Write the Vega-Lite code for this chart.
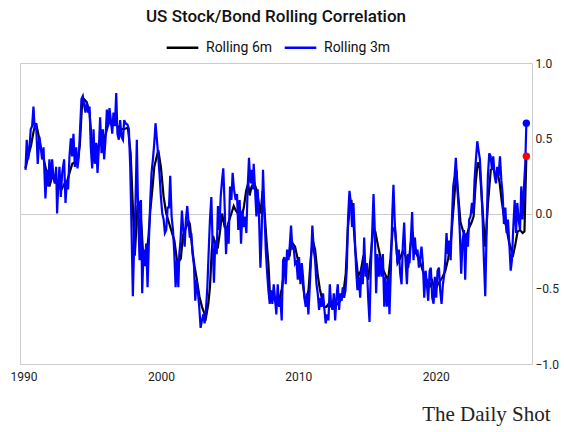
{
  "$schema": "https://vega.github.io/schema/vega-lite/v6.json",
  "width": 512,
  "height": 301,
  "autosize": {"type": "none"},
  "padding": {"left": 20, "top": 63, "right": 32, "bottom": 68},
  "background": "white",
  "title": {
    "text": "US Stock/Bond Rolling Correlation",
    "font": "Roboto",
    "fontSize": 17,
    "fontWeight": 500,
    "color": "#111111",
    "anchor": "middle",
    "offset": 4
  },
  "datasets": {
    "m6": [
      {"t":1990.15,"v":0.30},{"t":1990.35,"v":0.38},{"t":1990.55,"v":0.45},{"t":1990.75,"v":0.55},{"t":1990.92,"v":0.60},
      {"t":1991.1,"v":0.52},{"t":1991.3,"v":0.42},{"t":1991.5,"v":0.35},{"t":1991.65,"v":0.29},{"t":1991.89,"v":0.18},
      {"t":1992.1,"v":0.25},{"t":1992.35,"v":0.22},{"t":1992.55,"v":0.18},{"t":1992.77,"v":0.16},{"t":1993.0,"v":0.20},
      {"t":1993.2,"v":0.22},{"t":1993.35,"v":0.27},{"t":1993.55,"v":0.33},{"t":1993.75,"v":0.34},{"t":1993.95,"v":0.36},
      {"t":1994.1,"v":0.45},{"t":1994.25,"v":0.70},{"t":1994.4,"v":0.76},{"t":1994.6,"v":0.74},{"t":1994.81,"v":0.67},
      {"t":1994.95,"v":0.50},{"t":1995.1,"v":0.42},{"t":1995.3,"v":0.40},{"t":1995.5,"v":0.47},{"t":1995.7,"v":0.45},
      {"t":1995.9,"v":0.50},{"t":1996.05,"v":0.55},{"t":1996.25,"v":0.62},{"t":1996.45,"v":0.58},{"t":1996.65,"v":0.62},
      {"t":1996.85,"v":0.58},{"t":1997.05,"v":0.56},{"t":1997.3,"v":0.56},{"t":1997.6,"v":0.57},{"t":1997.8,"v":0.40},
      {"t":1997.9,"v":0.18},{"t":1998.1,"v":-0.28},{"t":1998.3,"v":0.05},{"t":1998.45,"v":0.07},{"t":1998.6,"v":-0.10},
      {"t":1998.74,"v":-0.33},{"t":1998.93,"v":-0.30},{"t":1999.1,"v":-0.15},{"t":1999.23,"v":0.02},{"t":1999.4,"v":0.18},
      {"t":1999.52,"v":0.31},{"t":1999.81,"v":0.42},{"t":2000.0,"v":0.31},{"t":2000.2,"v":0.11},{"t":2000.39,"v":0.0},
      {"t":2000.68,"v":-0.09},{"t":2000.98,"v":-0.18},{"t":2001.17,"v":-0.31},{"t":2001.3,"v":-0.32},{"t":2001.45,"v":-0.30},
      {"t":2001.6,"v":-0.15},{"t":2001.8,"v":-0.10},{"t":2002.0,"v":-0.05},{"t":2002.11,"v":-0.07},{"t":2002.3,"v":-0.25},
      {"t":2002.45,"v":-0.35},{"t":2002.6,"v":-0.43},{"t":2002.8,"v":-0.55},{"t":2002.99,"v":-0.62},{"t":2003.15,"v":-0.66},
      {"t":2003.28,"v":-0.69},{"t":2003.45,"v":-0.60},{"t":2003.57,"v":-0.49},{"t":2003.7,"v":-0.25},{"t":2003.8,"v":-0.15},
      {"t":2003.95,"v":-0.20},{"t":2004.15,"v":-0.22},{"t":2004.3,"v":-0.12},{"t":2004.45,"v":0.0},{"t":2004.64,"v":-0.09},
      {"t":2004.8,"v":-0.10},{"t":2004.95,"v":-0.05},{"t":2005.13,"v":0.00},{"t":2005.3,"v":0.05},{"t":2005.45,"v":0.02},
      {"t":2005.6,"v":0.00},{"t":2005.75,"v":-0.05},{"t":2005.9,"v":-0.02},{"t":2006.05,"v":0.05},{"t":2006.2,"v":0.15},
      {"t":2006.35,"v":0.20},{"t":2006.46,"v":0.12},{"t":2006.6,"v":0.18},{"t":2006.8,"v":0.20},{"t":2006.95,"v":0.16},
      {"t":2007.1,"v":0.08},{"t":2007.25,"v":0.0},{"t":2007.4,"v":0.15},{"t":2007.55,"v":0.0},{"t":2007.7,"v":-0.20},
      {"t":2007.82,"v":-0.33},{"t":2007.92,"v":-0.51},{"t":2008.1,"v":-0.55},{"t":2008.3,"v":-0.58},{"t":2008.5,"v":-0.56},
      {"t":2008.65,"v":-0.56},{"t":2008.8,"v":-0.50},{"t":2008.95,"v":-0.40},{"t":2009.15,"v":-0.30},{"t":2009.37,"v":-0.28},
      {"t":2009.5,"v":-0.18},{"t":2009.6,"v":-0.20},{"t":2009.76,"v":-0.22},{"t":2009.95,"v":-0.30},{"t":2010.1,"v":-0.38},
      {"t":2010.3,"v":-0.45},{"t":2010.45,"v":-0.55},{"t":2010.59,"v":-0.60},{"t":2010.75,"v":-0.50},{"t":2010.9,"v":-0.30},
      {"t":2011.05,"v":-0.18},{"t":2011.22,"v":-0.24},{"t":2011.4,"v":-0.40},{"t":2011.56,"v":-0.50},{"t":2011.75,"v":-0.58},
      {"t":2011.9,"v":-0.62},{"t":2012.04,"v":-0.62},{"t":2012.2,"v":-0.60},{"t":2012.4,"v":-0.62},{"t":2012.55,"v":-0.60},
      {"t":2012.65,"v":-0.62},{"t":2012.85,"v":-0.60},{"t":2013.05,"v":-0.58},{"t":2013.25,"v":-0.55},{"t":2013.45,"v":-0.40},
      {"t":2013.6,"v":-0.10},{"t":2013.75,"v":0.05},{"t":2013.86,"v":0.09},{"t":2014.0,"v":-0.05},{"t":2014.15,"v":-0.25},
      {"t":2014.35,"v":-0.42},{"t":2014.55,"v":-0.38},{"t":2014.7,"v":-0.30},{"t":2014.84,"v":-0.33},{"t":2015.08,"v":-0.44},
      {"t":2015.25,"v":-0.30},{"t":2015.45,"v":-0.10},{"t":2015.6,"v":-0.12},{"t":2015.81,"v":-0.22},{"t":2016.0,"v":-0.30},
      {"t":2016.2,"v":-0.38},{"t":2016.4,"v":-0.42},{"t":2016.54,"v":-0.44},{"t":2016.7,"v":-0.30},{"t":2016.85,"v":-0.12},
      {"t":2017.02,"v":-0.09},{"t":2017.22,"v":-0.33},{"t":2017.4,"v":-0.30},{"t":2017.6,"v":-0.25},{"t":2017.8,"v":-0.28},
      {"t":2017.99,"v":-0.36},{"t":2018.15,"v":-0.22},{"t":2018.3,"v":-0.12},{"t":2018.48,"v":-0.24},{"t":2018.65,"v":-0.28},
      {"t":2018.85,"v":-0.32},{"t":2019.05,"v":-0.38},{"t":2019.21,"v":-0.42},{"t":2019.4,"v":-0.45},{"t":2019.6,"v":-0.48},
      {"t":2019.75,"v":-0.45},{"t":2019.93,"v":-0.51},{"t":2020.1,"v":-0.48},{"t":2020.3,"v":-0.45},{"t":2020.5,"v":-0.42},
      {"t":2020.7,"v":-0.38},{"t":2020.9,"v":-0.30},{"t":2021.1,"v":-0.18},{"t":2021.3,"v":0.05},{"t":2021.5,"v":0.29},
      {"t":2021.65,"v":0.10},{"t":2021.8,"v":-0.06},{"t":2022.0,"v":-0.12},{"t":2022.2,"v":-0.16},{"t":2022.4,"v":-0.10},
      {"t":2022.6,"v":-0.06},{"t":2022.75,"v":-0.02},{"t":2022.9,"v":0.20},{"t":2023.05,"v":0.34},{"t":2023.2,"v":0.30},
      {"t":2023.35,"v":0.10},{"t":2023.5,"v":-0.10},{"t":2023.6,"v":-0.22},{"t":2023.8,"v":0.07},{"t":2024.0,"v":0.29},
      {"t":2024.2,"v":0.30},{"t":2024.35,"v":0.25},{"t":2024.5,"v":0.27},{"t":2024.65,"v":0.20},{"t":2024.8,"v":0.08},
      {"t":2024.96,"v":-0.02},{"t":2025.15,"v":-0.10},{"t":2025.35,"v":-0.20},{"t":2025.5,"v":-0.24},{"t":2025.64,"v":-0.27},
      {"t":2025.8,"v":-0.20},{"t":2025.95,"v":-0.12},{"t":2026.13,"v":-0.11},{"t":2026.32,"v":-0.13},{"t":2026.45,"v":-0.12},
      {"t":2026.59,"v":0.38}
    ],
    "m3": [
      {"t":1990.15,"v":0.29},{"t":1990.24,"v":0.49},{"t":1990.34,"v":0.36},{"t":1990.44,"v":0.44},{"t":1990.53,"v":0.56},
      {"t":1990.63,"v":0.58},{"t":1990.73,"v":0.71},{"t":1990.82,"v":0.56},{"t":1990.92,"v":0.60},{"t":1991.04,"v":0.33},
      {"t":1991.16,"v":0.51},{"t":1991.26,"v":0.44},{"t":1991.36,"v":0.36},{"t":1991.46,"v":0.44},{"t":1991.55,"v":0.22},
      {"t":1991.60,"v":0.10},{"t":1991.70,"v":0.29},{"t":1991.80,"v":0.18},{"t":1991.89,"v":0.36},{"t":1991.99,"v":0.22},
      {"t":1992.09,"v":0.36},{"t":1992.18,"v":0.24},{"t":1992.28,"v":0.20},{"t":1992.38,"v":0.31},{"t":1992.45,"v":0.0},
      {"t":1992.52,"v":0.16},{"t":1992.62,"v":0.31},{"t":1992.72,"v":0.11},{"t":1992.82,"v":0.27},{"t":1992.96,"v":0.36},
      {"t":1993.06,"v":0.07},{"t":1993.16,"v":0.22},{"t":1993.25,"v":0.16},{"t":1993.35,"v":0.38},{"t":1993.45,"v":0.50},
      {"t":1993.54,"v":0.38},{"t":1993.64,"v":0.53},{"t":1993.74,"v":0.31},{"t":1993.84,"v":0.44},{"t":1993.93,"v":0.30},
      {"t":1994.03,"v":0.38},{"t":1994.13,"v":0.58},{"t":1994.22,"v":0.76},{"t":1994.32,"v":0.78},{"t":1994.42,"v":0.72},
      {"t":1994.51,"v":0.67},{"t":1994.61,"v":0.74},{"t":1994.71,"v":0.67},{"t":1994.81,"v":0.71},{"t":1994.90,"v":0.44},
      {"t":1995.00,"v":0.30},{"t":1995.10,"v":0.56},{"t":1995.19,"v":0.33},{"t":1995.29,"v":0.47},{"t":1995.39,"v":0.27},
      {"t":1995.49,"v":0.44},{"t":1995.58,"v":0.64},{"t":1995.68,"v":0.40},{"t":1995.78,"v":0.56},{"t":1995.87,"v":0.36},
      {"t":1995.97,"v":0.49},{"t":1996.07,"v":0.69},{"t":1996.16,"v":0.58},{"t":1996.26,"v":0.70},{"t":1996.36,"v":0.62},
      {"t":1996.46,"v":0.53},{"t":1996.55,"v":0.67},{"t":1996.65,"v":0.58},{"t":1996.75,"v":0.80},{"t":1996.84,"v":0.53},
      {"t":1996.94,"v":0.49},{"t":1997.04,"v":0.62},{"t":1997.13,"v":0.51},{"t":1997.24,"v":0.49},{"t":1997.33,"v":0.62},
      {"t":1997.43,"v":0.60},{"t":1997.57,"v":0.59},{"t":1997.67,"v":0.56},{"t":1997.77,"v":0.31},{"t":1997.87,"v":-0.13},
      {"t":1997.96,"v":-0.55},{"t":1998.06,"v":-0.18},{"t":1998.16,"v":0.09},{"t":1998.25,"v":0.49},{"t":1998.35,"v":-0.02},
      {"t":1998.45,"v":-0.31},{"t":1998.55,"v":0.09},{"t":1998.64,"v":-0.53},{"t":1998.74,"v":-0.24},{"t":1998.84,"v":-0.35},
      {"t":1998.93,"v":-0.20},{"t":1999.03,"v":-0.49},{"t":1999.13,"v":-0.18},{"t":1999.23,"v":0.09},{"t":1999.32,"v":0.27},
      {"t":1999.42,"v":0.36},{"t":1999.52,"v":0.47},{"t":1999.61,"v":0.60},{"t":1999.71,"v":0.49},{"t":1999.81,"v":0.38},
      {"t":1999.91,"v":0.25},{"t":2000.00,"v":0.11},{"t":2000.10,"v":0.0},{"t":2000.20,"v":-0.04},{"t":2000.29,"v":-0.13},
      {"t":2000.39,"v":-0.11},{"t":2000.49,"v":0.04},{"t":2000.59,"v":0.04},{"t":2000.68,"v":0.25},{"t":2000.78,"v":-0.02},
      {"t":2000.88,"v":-0.11},{"t":2000.98,"v":-0.27},{"t":2001.07,"v":-0.49},{"t":2001.17,"v":-0.31},{"t":2001.27,"v":-0.49},
      {"t":2001.34,"v":-0.27},{"t":2001.43,"v":-0.18},{"t":2001.53,"v":0.02},{"t":2001.63,"v":-0.11},{"t":2001.73,"v":-0.22},
      {"t":2001.82,"v":-0.04},{"t":2001.92,"v":0.05},{"t":2002.02,"v":-0.07},{"t":2002.11,"v":-0.16},{"t":2002.21,"v":-0.13},
      {"t":2002.31,"v":-0.27},{"t":2002.41,"v":-0.35},{"t":2002.50,"v":-0.58},{"t":2002.60,"v":-0.44},{"t":2002.70,"v":-0.53},
      {"t":2002.79,"v":-0.62},{"t":2002.89,"v":-0.76},{"t":2002.99,"v":-0.71},{"t":2003.09,"v":-0.67},{"t":2003.18,"v":-0.73},
      {"t":2003.28,"v":-0.64},{"t":2003.38,"v":-0.49},{"t":2003.47,"v":-0.27},{"t":2003.57,"v":-0.04},{"t":2003.67,"v":0.11},
      {"t":2003.77,"v":-0.22},{"t":2003.86,"v":-0.46},{"t":2003.96,"v":-0.18},{"t":2004.06,"v":-0.27},{"t":2004.15,"v":0.05},
      {"t":2004.25,"v":-0.11},{"t":2004.35,"v":0.11},{"t":2004.45,"v":0.22},{"t":2004.54,"v":0.30},{"t":2004.64,"v":0.05},
      {"t":2004.74,"v":-0.27},{"t":2004.83,"v":-0.09},{"t":2004.93,"v":-0.20},{"t":2005.03,"v":0.18},{"t":2005.13,"v":0.09},
      {"t":2005.22,"v":0.27},{"t":2005.32,"v":0.16},{"t":2005.44,"v":0.09},{"t":2005.54,"v":0.13},{"t":2005.63,"v":-0.11},
      {"t":2005.73,"v":0.09},{"t":2005.83,"v":-0.20},{"t":2005.93,"v":0.02},{"t":2006.02,"v":-0.09},{"t":2006.12,"v":-0.02},
      {"t":2006.22,"v":-0.13},{"t":2006.31,"v":0.16},{"t":2006.41,"v":0.37},{"t":2006.51,"v":0.20},{"t":2006.61,"v":0.29},
      {"t":2006.70,"v":0.16},{"t":2006.75,"v":0.33},{"t":2006.85,"v":0.16},{"t":2006.95,"v":-0.02},{"t":2007.04,"v":0.16},
      {"t":2007.14,"v":-0.02},{"t":2007.24,"v":-0.36},{"t":2007.33,"v":-0.13},{"t":2007.43,"v":0.29},{"t":2007.53,"v":0.02},
      {"t":2007.63,"v":-0.24},{"t":2007.72,"v":-0.38},{"t":2007.82,"v":-0.51},{"t":2007.92,"v":-0.60},{"t":2008.01,"v":-0.51},
      {"t":2008.11,"v":-0.60},{"t":2008.21,"v":-0.47},{"t":2008.30,"v":-0.56},{"t":2008.40,"v":-0.67},{"t":2008.50,"v":-0.47},
      {"t":2008.60,"v":-0.62},{"t":2008.69,"v":-0.56},{"t":2008.79,"v":-0.71},{"t":2008.89,"v":-0.31},{"t":2008.98,"v":-0.29},
      {"t":2009.08,"v":-0.47},{"t":2009.18,"v":-0.24},{"t":2009.28,"v":-0.31},{"t":2009.37,"v":-0.22},{"t":2009.47,"v":-0.08},
      {"t":2009.57,"v":-0.24},{"t":2009.66,"v":-0.22},{"t":2009.76,"v":-0.33},{"t":2009.86,"v":-0.31},{"t":2009.96,"v":-0.44},
      {"t":2010.05,"v":-0.29},{"t":2010.15,"v":-0.47},{"t":2010.25,"v":-0.33},{"t":2010.34,"v":-0.42},{"t":2010.44,"v":-0.56},
      {"t":2010.54,"v":-0.62},{"t":2010.64,"v":-0.53},{"t":2010.73,"v":-0.67},{"t":2010.83,"v":-0.49},{"t":2010.93,"v":-0.29},
      {"t":2011.02,"v":-0.08},{"t":2011.12,"v":-0.24},{"t":2011.22,"v":-0.31},{"t":2011.32,"v":-0.47},{"t":2011.41,"v":-0.53},
      {"t":2011.51,"v":-0.64},{"t":2011.61,"v":-0.56},{"t":2011.70,"v":-0.62},{"t":2011.80,"v":-0.53},{"t":2011.90,"v":-0.64},
      {"t":2011.99,"v":-0.73},{"t":2012.09,"v":-0.67},{"t":2012.19,"v":-0.71},{"t":2012.29,"v":-0.47},{"t":2012.38,"v":-0.60},
      {"t":2012.48,"v":-0.64},{"t":2012.58,"v":-0.53},{"t":2012.68,"v":-0.71},{"t":2012.77,"v":-0.56},{"t":2012.87,"v":-0.47},
      {"t":2012.97,"v":-0.64},{"t":2013.04,"v":-0.53},{"t":2013.14,"v":-0.58},{"t":2013.23,"v":-0.49},{"t":2013.33,"v":-0.56},
      {"t":2013.43,"v":-0.51},{"t":2013.53,"v":-0.36},{"t":2013.62,"v":-0.02},{"t":2013.72,"v":0.15},{"t":2013.82,"v":0.07},
      {"t":2013.91,"v":-0.09},{"t":2014.01,"v":0.07},{"t":2014.11,"v":-0.16},{"t":2014.21,"v":-0.38},{"t":2014.30,"v":-0.51},
      {"t":2014.40,"v":-0.42},{"t":2014.50,"v":-0.56},{"t":2014.59,"v":-0.36},{"t":2014.69,"v":-0.47},{"t":2014.79,"v":-0.16},
      {"t":2014.89,"v":-0.42},{"t":2014.98,"v":-0.33},{"t":2015.08,"v":-0.56},{"t":2015.18,"v":-0.72},{"t":2015.27,"v":-0.38},
      {"t":2015.37,"v":-0.13},{"t":2015.47,"v":0.13},{"t":2015.57,"v":-0.13},{"t":2015.66,"v":-0.53},{"t":2015.76,"v":-0.27},
      {"t":2015.86,"v":-0.42},{"t":2015.95,"v":-0.29},{"t":2016.05,"v":-0.42},{"t":2016.15,"v":-0.27},{"t":2016.25,"v":-0.62},
      {"t":2016.34,"v":-0.42},{"t":2016.44,"v":-0.62},{"t":2016.54,"v":-0.42},{"t":2016.63,"v":-0.67},{"t":2016.73,"v":-0.38},
      {"t":2016.83,"v":-0.02},{"t":2016.92,"v":0.19},{"t":2017.02,"v":-0.07},{"t":2017.12,"v":-0.20},{"t":2017.22,"v":-0.33},
      {"t":2017.31,"v":-0.24},{"t":2017.41,"v":-0.40},{"t":2017.51,"v":-0.47},{"t":2017.60,"v":-0.22},{"t":2017.70,"v":-0.06},
      {"t":2017.80,"v":-0.31},{"t":2017.90,"v":-0.47},{"t":2017.99,"v":-0.27},{"t":2018.09,"v":-0.33},{"t":2018.19,"v":-0.16},
      {"t":2018.28,"v":0.01},{"t":2018.38,"v":-0.31},{"t":2018.48,"v":-0.16},{"t":2018.57,"v":-0.27},{"t":2018.67,"v":-0.24},
      {"t":2018.77,"v":-0.36},{"t":2018.87,"v":-0.29},{"t":2018.96,"v":-0.22},{"t":2019.06,"v":-0.33},{"t":2019.16,"v":-0.56},
      {"t":2019.26,"v":-0.38},{"t":2019.35,"v":-0.47},{"t":2019.45,"v":-0.58},{"t":2019.55,"v":-0.38},{"t":2019.64,"v":-0.36},
      {"t":2019.74,"v":-0.56},{"t":2019.84,"v":-0.60},{"t":2019.93,"v":-0.42},{"t":2020.03,"v":-0.56},{"t":2020.13,"v":-0.38},
      {"t":2020.23,"v":-0.36},{"t":2020.32,"v":-0.51},{"t":2020.42,"v":-0.60},{"t":2020.52,"v":-0.47},{"t":2020.62,"v":-0.40},
      {"t":2020.69,"v":-0.31},{"t":2020.78,"v":-0.13},{"t":2020.88,"v":-0.27},{"t":2020.98,"v":-0.18},{"t":2021.08,"v":-0.31},
      {"t":2021.17,"v":-0.04},{"t":2021.27,"v":0.18},{"t":2021.37,"v":0.25},{"t":2021.46,"v":0.37},{"t":2021.56,"v":0.18},
      {"t":2021.66,"v":0.04},{"t":2021.75,"v":-0.13},{"t":2021.85,"v":-0.40},{"t":2021.95,"v":-0.18},{"t":2022.05,"v":-0.11},
      {"t":2022.14,"v":-0.44},{"t":2022.24,"v":-0.13},{"t":2022.34,"v":-0.22},{"t":2022.43,"v":-0.04},{"t":2022.53,"v":-0.02},
      {"t":2022.63,"v":0.07},{"t":2022.73,"v":0.0},{"t":2022.82,"v":0.22},{"t":2022.92,"v":0.36},{"t":2023.02,"v":0.48},
      {"t":2023.11,"v":0.42},{"t":2023.21,"v":0.36},{"t":2023.31,"v":0.18},{"t":2023.41,"v":-0.04},{"t":2023.50,"v":-0.31},
      {"t":2023.60,"v":-0.55},{"t":2023.70,"v":-0.11},{"t":2023.79,"v":0.25},{"t":2023.89,"v":0.40},{"t":2023.99,"v":0.38},
      {"t":2024.09,"v":0.29},{"t":2024.18,"v":0.38},{"t":2024.28,"v":0.25},{"t":2024.38,"v":0.20},{"t":2024.47,"v":0.31},
      {"t":2024.57,"v":0.25},{"t":2024.67,"v":0.38},{"t":2024.77,"v":0.22},{"t":2024.86,"v":0.13},{"t":2024.96,"v":-0.07},
      {"t":2025.06,"v":0.04},{"t":2025.15,"v":-0.13},{"t":2025.25,"v":-0.04},{"t":2025.35,"v":-0.20},{"t":2025.45,"v":-0.38},
      {"t":2025.54,"v":-0.31},{"t":2025.64,"v":-0.09},{"t":2025.74,"v":0.09},{"t":2025.84,"v":-0.13},{"t":2025.93,"v":0.07},
      {"t":2026.03,"v":-0.04},{"t":2026.13,"v":-0.11},{"t":2026.22,"v":0.18},{"t":2026.32,"v":-0.04},{"t":2026.42,"v":0.18},
      {"t":2026.51,"v":0.33},{"t":2026.59,"v":0.60}
    ]
  },
  "encoding": {
    "x": {
      "field": "t",
      "type": "quantitative",
      "scale": {"domain": [1989.75, 2027.0], "nice": false, "zero": false},
      "axis": {
        "values": [1990, 2000, 2010, 2020],
        "format": "d",
        "ticks": false,
        "domain": false,
        "grid": false,
        "labelFont": "Roboto",
        "labelFontSize": 12,
        "labelColor": "#222222",
        "labelPadding": 7,
        "title": "The Daily Shot",
        "titleFont": "Liberation Serif",
        "titleFontSize": 21,
        "titleFontWeight": "normal",
        "titleColor": "#222222",
        "titleAlign": "right",
        "titleAnchor": "end",
        "titleX": 530,
        "titleY": 56,
        "titleBaseline": "alphabetic"
      }
    },
    "y": {
      "field": "v",
      "type": "quantitative",
      "scale": {"domain": [-1, 1], "nice": false},
      "axis": {
        "orient": "right",
        "values": [-1, -0.5, 0, 0.5, 1],
        "format": ".1f",
        "ticks": false,
        "domain": false,
        "grid": true,
        "gridColor": "#cccccc",
        "gridOpacity": {"condition": {"test": "datum.value === 0", "value": 1}, "value": 0},
        "labelFont": "Roboto",
        "labelFontSize": 12,
        "labelColor": "#222222",
        "labelPadding": 3,
        "title": null
      }
    }
  },
  "layer": [
    {
      "data": {"name": "m6"},
      "mark": {"type": "line", "strokeWidth": 2.2},
      "encoding": {
        "color": {
          "datum": "Rolling 6m",
          "scale": {"domain": ["Rolling 6m", "Rolling 3m"], "range": ["#000000", "#0000ff"]},
          "legend": {
            "orient": "none",
            "direction": "horizontal",
            "legendX": 145,
            "legendY": -33,
            "title": null,
            "symbolType": "stroke",
            "symbolStrokeWidth": 2.5,
            "symbolSize": 1000,
            "labelFont": "Roboto",
            "labelFontSize": 14,
            "labelColor": "#111111",
            "columnPadding": 6,
            "labelOffset": 6
          }
        }
      }
    },
    {
      "data": {"name": "m3"},
      "mark": {"type": "line", "strokeWidth": 2.2},
      "encoding": {"color": {"datum": "Rolling 3m"}}
    },
    {
      "data": {"name": "m3"},
      "transform": [{"filter": "datum.t > 2026.55"}],
      "mark": {"type": "circle", "size": 55, "color": "#0000ff", "opacity": 1}
    },
    {
      "data": {"name": "m6"},
      "transform": [{"filter": "datum.t > 2026.55"}],
      "mark": {"type": "circle", "size": 55, "color": "#ff0000", "opacity": 1}
    }
  ],
  "config": {
    "view": {"stroke": "#cccccc", "strokeWidth": 1}
  }
}
